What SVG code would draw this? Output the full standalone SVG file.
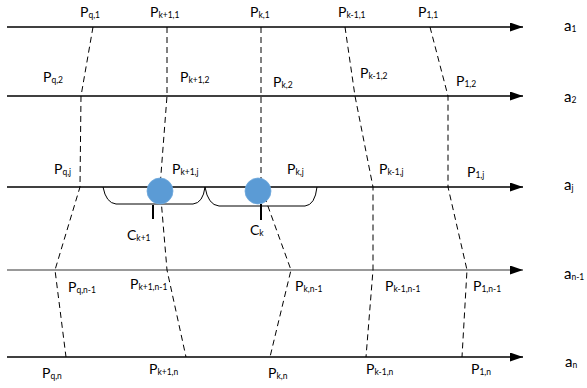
<svg xmlns="http://www.w3.org/2000/svg" width="587" height="388" viewBox="0 0 587 388">
<defs>
<marker id="arr" markerWidth="14" markerHeight="10" refX="13" refY="4.5" orient="auto" markerUnits="userSpaceOnUse">
<path d="M0,0 L13,4.5 L0,9 Z" fill="#000"/>
</marker>
<style>
.axis{stroke:#000;stroke-width:1.3;fill:none}
.axis.g{stroke:#777}
.dash{stroke:#000;stroke-width:1;fill:none;stroke-dasharray:6 4}
.br{stroke:#000;stroke-width:1;fill:none}
.tick{stroke:#000;stroke-width:2}
.dot{fill:#5B9BD5;stroke:#6FA8DC;stroke-width:0.8}
text{font-family:Lato,"Liberation Sans",Arial,sans-serif;font-size:14px;fill:#000}
.s{font-size:8.5px}
.a{font-size:15px}
</style>
</defs>
<g id="connectors">
<line class="axis" x1="7" y1="27" x2="523" y2="27" marker-end="url(#arr)"/>
<line class="axis" x1="7" y1="96" x2="523" y2="96" marker-end="url(#arr)"/>
<line class="axis" x1="7" y1="187" x2="523" y2="187" marker-end="url(#arr)"/>
<line class="axis g" x1="7" y1="270" x2="523" y2="270" marker-end="url(#arr)"/>
<line class="axis" x1="7" y1="357" x2="523" y2="357" marker-end="url(#arr)"/>
<polyline class="dash" points="93,27 81,96 80,187 55,270 66,357"/>
<polyline class="dash" points="167,27 167,96 160,187 167,270 186,357"/>
<polyline class="dash" points="261,27 261,96 261,187 291,270 270,357"/>
<polyline class="dash" points="345,27 355,96 373,187 373,270 366,357"/>
<polyline class="dash" points="430,27 448,96 448,187 467,270 462,357"/>
</g>
<g id="bracket1">
<path class="br" d="M103,187 Q106,203 116,204 L193,204 Q203,203 205,187"/>
</g>
<g id="bracket2">
<path class="br" d="M205,187 Q208,205 219,206 L305,206 Q315,205 317,187"/>
</g>
<g id="node-ck1">
<circle class="dot" cx="160" cy="191" r="13"/>
<line class="tick" x1="153" y1="205" x2="153" y2="219"/>
<text x="127" y="240">C<tspan class="s" dy="1">k+1</tspan></text>
</g>
<g id="node-ck">
<circle class="dot" cx="258" cy="191" r="13"/>
<line class="tick" x1="261" y1="204" x2="261" y2="220"/>
<text x="250" y="235">C<tspan class="s" dy="1">k</tspan></text>
</g>
<g id="labels">
<text x="80" y="17">P<tspan class="s" dy="1">q,1</tspan></text>
<text x="150" y="17">P<tspan class="s" dy="1">k+1,1</tspan></text>
<text x="250" y="17">P<tspan class="s" dy="1">k,1</tspan></text>
<text x="338" y="17">P<tspan class="s" dy="1">k-1,1</tspan></text>
<text x="418" y="17">P<tspan class="s" dy="1">1,1</tspan></text>

<text x="43" y="82">P<tspan class="s" dy="1">q,2</tspan></text>
<text x="180" y="82">P<tspan class="s" dy="1">k+1,2</tspan></text>
<text x="273" y="87">P<tspan class="s" dy="1">k,2</tspan></text>
<text x="360" y="78">P<tspan class="s" dy="1">k-1,2</tspan></text>
<text x="456" y="86">P<tspan class="s" dy="1">1,2</tspan></text>

<text x="54" y="174">P<tspan class="s" dy="1">q,j</tspan></text>
<text x="172" y="174">P<tspan class="s" dy="1">k+1,j</tspan></text>
<text x="287" y="174">P<tspan class="s" dy="1">k,j</tspan></text>
<text x="379" y="174">P<tspan class="s" dy="1">k-1,j</tspan></text>
<text x="467" y="177">P<tspan class="s" dy="1">1,j</tspan></text>

<text x="68" y="292">P<tspan class="s" dy="1">q,n-1</tspan></text>
<text x="130" y="289">P<tspan class="s" dy="1">k+1,n-1</tspan></text>
<text x="295" y="291">P<tspan class="s" dy="1">k,n-1</tspan></text>
<text x="385" y="291">P<tspan class="s" dy="1">k-1,n-1</tspan></text>
<text x="473" y="291">P<tspan class="s" dy="1">1,n-1</tspan></text>

<text x="42" y="378">P<tspan class="s" dy="1">q,n</tspan></text>
<text x="149" y="374">P<tspan class="s" dy="1">k+1,n</tspan></text>
<text x="268" y="378">P<tspan class="s" dy="1">k,n</tspan></text>
<text x="366" y="374">P<tspan class="s" dy="1">k-1,n</tspan></text>
<text x="471" y="374">P<tspan class="s" dy="1">1,n</tspan></text>

<text class="a" x="564" y="31">a<tspan class="s" dy="1">1</tspan></text>
<text class="a" x="564" y="102">a<tspan class="s" dy="1">2</tspan></text>
<text class="a" x="564" y="190">a<tspan class="s" dy="1">j</tspan></text>
<text class="a" x="564" y="279">a<tspan class="s" dy="1">n-1</tspan></text>
<text class="a" x="565" y="367">a<tspan class="s" dy="1">n</tspan></text>
</g>
</svg>
